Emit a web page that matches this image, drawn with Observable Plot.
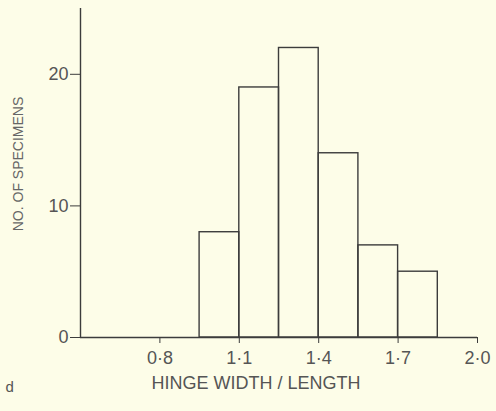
<!DOCTYPE html>
<html>
<head>
<meta charset="utf-8">
<script src="https://cdn.jsdelivr.net/npm/d3@7"></script>
<script src="https://cdn.jsdelivr.net/npm/@observablehq/plot@0.6"></script>
<style>
  html, body { margin: 0; padding: 0; background: #fdfde8; }
  #chart svg { display: block; }
</style>
</head>
<body>
<div id="chart"></div>
<script>
const binStart = [0.95, 1.10, 1.25, 1.40, 1.55, 1.70];
const binEnd   = [1.10, 1.25, 1.40, 1.55, 1.70, 1.85];
const counts   = [8, 19, 22, 14, 7, 5];
const xTicks = [0.8, 1.1, 1.4, 1.7, 2.0];
const xTickLabels = ["0·8", "1·1", "1·4", "1·7", "2·0"];
const yTicks = [0, 10, 20];
const yTickLabels = ["0", "10", "20"];
const xLabel = "HINGE WIDTH / LENGTH";
const yLabel = "NO. OF SPECIMENS";
const panelLetter = "d";

const bins = counts.map((c, i) => ({x1: binStart[i], x2: binEnd[i], count: c}));
const xLab = xTicks.map((v, i) => ({v, label: xTickLabels[i]}));
const yLab = yTicks.map((v, i) => ({v, label: yTickLabels[i]}));
const ink = "#3c3c3c";
const textInk = "#555";

const chart = Plot.plot({
  width: 496,
  height: 411,
  marginLeft: 80,
  marginRight: 19,
  marginTop: 8,
  marginBottom: 74,
  style: {background: "#fdfde8", fontFamily: "'Liberation Sans', 'DejaVu Sans', sans-serif", color: textInk},
  x: {domain: [0.5, 2.0]},
  y: {domain: [0, 25]},
  marks: [
    Plot.rectY(bins, {x1: "x1", x2: "x2", y: "count", fill: "none", stroke: ink, strokeWidth: 1.4}),
    Plot.ruleY([0], {stroke: ink, strokeWidth: 1.4}),
    Plot.ruleX([0.5], {stroke: ink, strokeWidth: 1.4}),
    Plot.axisX(xTicks, {anchor: "bottom", tickSize: 6, stroke: ink, tickFormat: () => "", label: null}),
    Plot.axisY(yTicks, {anchor: "left", tickSize: 10, stroke: ink, tickFormat: () => "", label: null}),
    Plot.text(xLab, {x: "v", text: "label", frameAnchor: "bottom", lineAnchor: "middle", dy: 21, fontSize: 18, fill: textInk}),
    Plot.text(yLab, {y: "v", text: "label", frameAnchor: "left", textAnchor: "end", lineAnchor: "middle", dx: -12, fontSize: 18, fill: textInk}),
    Plot.text([xLabel], {frameAnchor: "bottom", textAnchor: "middle", dx: -23, dy: 51, fontSize: 18, fill: textInk, text: d => d}),
    Plot.text([yLabel], {frameAnchor: "left", textAnchor: "middle", rotate: -90, dx: -62, dy: -9, fontSize: 14, fill: "#666", text: d => d}),
    Plot.text([panelLetter], {frameAnchor: "bottom-left", textAnchor: "start", dx: -75, dy: 54, fontSize: 15, fill: textInk, text: d => d})
  ]
});
document.getElementById("chart").appendChild(chart);
</script>
</body>
</html>
